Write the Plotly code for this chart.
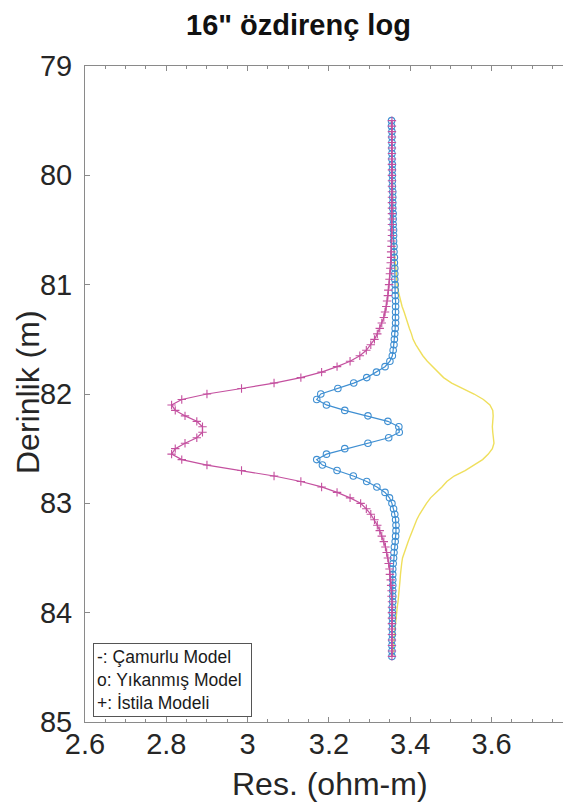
import plotly.graph_objects as go

# ---------------- data ----------------
depth = [79.50, 79.55, 79.60, 79.65, 79.70, 79.75, 79.80, 79.85, 79.90, 79.95,
         80.00, 80.05, 80.10, 80.15, 80.20, 80.25, 80.30, 80.35, 80.40, 80.45,
         80.50, 80.55, 80.60, 80.65, 80.70, 80.75, 80.80, 80.85, 80.90, 80.95,
         81.00, 81.05, 81.10, 81.15, 81.20, 81.25, 81.30, 81.35, 81.40, 81.45,
         81.50, 81.55, 81.60, 81.65, 81.70, 81.75, 81.80, 81.85, 81.90, 81.95,
         82.00, 82.05, 82.10, 82.15, 82.20, 82.25, 82.30, 82.35, 82.40, 82.45,
         82.50, 82.55, 82.60, 82.65, 82.70, 82.75, 82.80, 82.85, 82.90, 82.95,
         83.00, 83.05, 83.10, 83.15, 83.20, 83.25, 83.30, 83.35, 83.40, 83.45,
         83.50, 83.55, 83.60, 83.65, 83.70, 83.75, 83.80, 83.85, 83.90, 83.95,
         84.00, 84.05, 84.10, 84.15, 84.20, 84.25, 84.30, 84.35, 84.40]

# Çamurlu Model (yellow line)
res_camurlu = [3.354, 3.354, 3.355, 3.355, 3.355, 3.355, 3.355, 3.355, 3.356, 3.356,
               3.356, 3.356, 3.356, 3.357, 3.357, 3.357, 3.357, 3.357, 3.357, 3.358,
               3.358, 3.359, 3.359, 3.360, 3.361, 3.362, 3.363, 3.364, 3.365, 3.367,
               3.368, 3.370, 3.373, 3.376, 3.380, 3.385, 3.389, 3.393, 3.398, 3.403,
               3.407, 3.414, 3.422, 3.431, 3.442, 3.455, 3.468, 3.482, 3.502, 3.530,
               3.557, 3.580, 3.596, 3.603, 3.604, 3.603, 3.602, 3.603, 3.605, 3.606,
               3.602, 3.592, 3.578, 3.557, 3.535, 3.508, 3.490, 3.478, 3.463, 3.450,
               3.440, 3.431, 3.423, 3.416, 3.410, 3.405, 3.400, 3.395, 3.390, 3.385,
               3.381, 3.379, 3.377, 3.376, 3.375, 3.374, 3.373, 3.371, 3.370, 3.368,
               3.367, 3.365, 3.364, 3.362, 3.361, 3.360, 3.359, 3.358, 3.357]

# Yıkanmış Model (blue, circles)
res_yikanmis = [3.354, 3.354, 3.355, 3.355, 3.355, 3.355, 3.355, 3.355, 3.356, 3.356,
                3.356, 3.356, 3.356, 3.357, 3.357, 3.357, 3.357, 3.358, 3.358, 3.358,
                3.359, 3.359, 3.359, 3.360, 3.360, 3.361, 3.361, 3.362, 3.362, 3.362,
                3.363, 3.363, 3.363, 3.364, 3.364, 3.364, 3.364, 3.364, 3.363, 3.362,
                3.361, 3.360, 3.358, 3.356, 3.350, 3.338, 3.317, 3.293, 3.261, 3.222,
                3.180, 3.170, 3.194, 3.239, 3.296, 3.345, 3.372, 3.373, 3.347, 3.296,
                3.239, 3.194, 3.170, 3.184, 3.220, 3.260, 3.293, 3.318, 3.338, 3.349,
                3.355, 3.359, 3.362, 3.364, 3.365, 3.365, 3.364, 3.363, 3.361, 3.360,
                3.359, 3.358, 3.357, 3.357, 3.357, 3.357, 3.357, 3.357, 3.357, 3.356,
                3.356, 3.356, 3.356, 3.356, 3.356, 3.355, 3.355, 3.355, 3.355]

# İstila Modeli (magenta, plus signs)
res_istila = [3.355, 3.355, 3.355, 3.355, 3.355, 3.355, 3.355, 3.355, 3.355, 3.355,
              3.355, 3.355, 3.355, 3.355, 3.355, 3.355, 3.355, 3.355, 3.355, 3.355,
              3.355, 3.355, 3.354, 3.354, 3.353, 3.353, 3.352, 3.351, 3.350, 3.349,
              3.348, 3.346, 3.345, 3.343, 3.341, 3.338, 3.335, 3.330, 3.325, 3.319,
              3.312, 3.303, 3.292, 3.276, 3.252, 3.220, 3.182, 3.131, 3.065, 2.985,
              2.900, 2.838, 2.813, 2.822, 2.846, 2.875, 2.889, 2.889, 2.875, 2.846,
              2.822, 2.813, 2.838, 2.900, 2.985, 3.065, 3.131, 3.182, 3.220, 3.252,
              3.278, 3.292, 3.303, 3.312, 3.319, 3.325, 3.330, 3.335, 3.339, 3.342,
              3.345, 3.347, 3.349, 3.350, 3.352, 3.353, 3.354, 3.354, 3.355, 3.355,
              3.355, 3.355, 3.355, 3.355, 3.355, 3.355, 3.355, 3.355, 3.355]

x_tickvals = [2.6, 2.8, 3.0, 3.2, 3.4, 3.6]
x_ticktext = ["2.6", "2.8", "3", "3.2", "3.4", "3.6"]
y_tickvals = [79, 80, 81, 82, 83, 84, 85]

title_text = "16\" özdirenç log"
xlabel = "Res. (ohm-m)"
ylabel = "Derinlik (m)"
legend_lines = ["-: Çamurlu Model", "o: Yıkanmış Model", "+: İstila Modeli"]

# ---------------- figure ----------------
FONT = "Arial, Liberation Sans, Helvetica, sans-serif"
AXC = "#8a8a8a"
OFF = 8                       # default page margin of the html body
PW, PH = 571, 809             # window size
L, R, T, B = 85, 570, 66, 722  # plot area in window pixels
W, H = PW - OFF, PH - OFF


def px(xw):
    return (xw - L) / (R - L)


def py(yw):
    return (B - yw) / (B - T)


fig = go.Figure()
fig.add_trace(go.Scatter(x=res_camurlu, y=depth, mode="lines",
                         line=dict(color="#efdf5c", width=1.4),
                         showlegend=False, hoverinfo="skip"))
fig.add_trace(go.Scatter(x=res_yikanmis, y=depth, mode="lines+markers",
                         line=dict(color="#3f8fd2", width=1.2),
                         marker=dict(symbol="circle-open", size=6.5, color="#3f8fd2",
                                     line=dict(width=1.1, color="#3f8fd2")),
                         showlegend=False, hoverinfo="skip"))
fig.add_trace(go.Scatter(x=res_istila, y=depth, mode="lines+markers",
                         line=dict(color="#c4509f", width=1.2),
                         marker=dict(symbol="cross-thin-open", size=6, color="#c4509f",
                                     line=dict(width=1.1, color="#c4509f")),
                         showlegend=False, hoverinfo="skip"))

fig.update_layout(
    width=W, height=H,
    margin=dict(l=L - OFF, r=PW - R, t=T - OFF, b=PH - B, autoexpand=False),
    paper_bgcolor="white", plot_bgcolor="white",
    font=dict(family=FONT, color="#262626"),
    showlegend=False,
)

fig.update_xaxes(range=[2.6, 3.793], tickvals=x_tickvals, ticktext=x_ticktext,
                 automargin=False, ticklabelstandoff=-4,
                 ticks="inside", ticklen=5, tickwidth=1, tickcolor=AXC,
                 showline=True, linecolor=AXC, linewidth=1, mirror="allticks",
                 showgrid=False, zeroline=False,
                 tickfont=dict(size=29, color="#262626"),
                 minor=dict(dtick=0.05, tick0=2.6, ticks="inside", ticklen=3,
                            tickcolor=AXC, showgrid=False))
fig.update_yaxes(range=[85, 79], tickvals=y_tickvals,
                 automargin=False, ticklabelstandoff=6,
                 ticks="inside", ticklen=5, tickwidth=1, tickcolor=AXC,
                 showline=True, linecolor=AXC, linewidth=1, mirror="allticks",
                 showgrid=False, zeroline=False,
                 tickfont=dict(size=29, color="#262626"))

# title and axis titles as positioned text
fig.add_annotation(text=f"<b>{title_text}</b>", xref="paper", yref="paper",
                   x=px(298), y=py(25), xanchor="center", yanchor="middle",
                   showarrow=False, font=dict(size=29, color="#111111", family=FONT))
fig.add_annotation(text=ylabel, textangle=-90, xref="paper", yref="paper",
                   x=px(28), y=py(392), xanchor="center", yanchor="middle",
                   showarrow=False, font=dict(size=32, color="#262626", family=FONT))
fig.add_annotation(text=xlabel, xref="paper", yref="paper",
                   x=px(330), y=py(784), xanchor="center", yanchor="middle",
                   showarrow=False, font=dict(size=32, color="#262626", family=FONT))
fig.add_annotation(text="<br>".join(legend_lines), xref="paper", yref="paper",
                   x=px(93), y=py(643), xanchor="left", yanchor="top",
                   align="left", showarrow=False, bgcolor="white", width=151,
                   bordercolor="#555555", borderwidth=1, borderpad=3,
                   font=dict(size=17.5, color="#1a1a1a", family=FONT))

fig.write_html("out.html")
